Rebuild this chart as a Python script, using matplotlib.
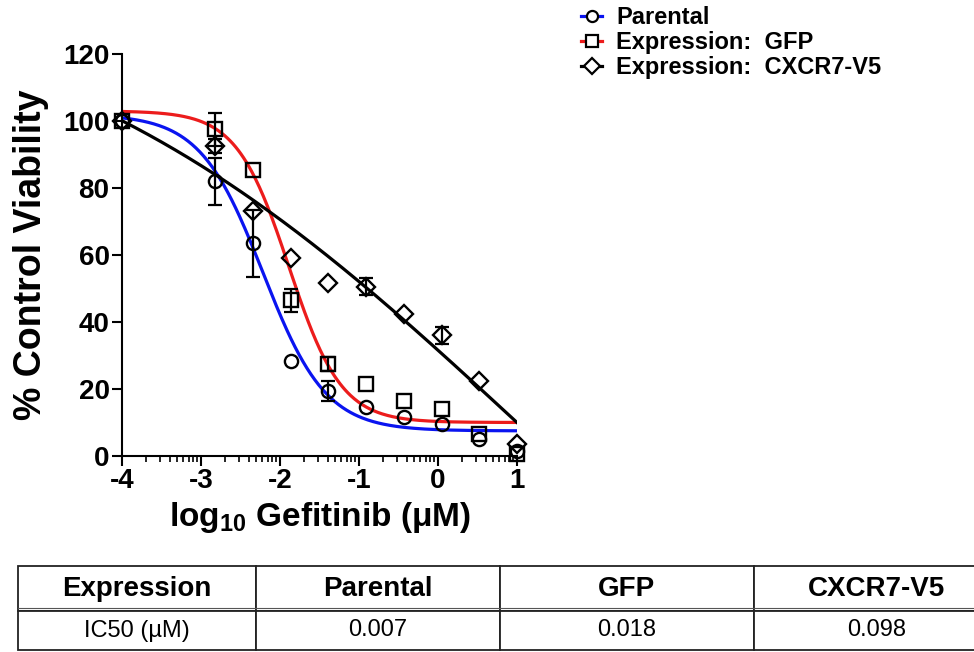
import numpy as np
import matplotlib.pyplot as plt
from matplotlib.lines import Line2D

plt.rcParams['font.family'] = ['Liberation Sans', 'DejaVu Sans']
plt.rcParams['font.weight'] = 'bold'
plt.rcParams['mathtext.fontset'] = 'custom'
plt.rcParams['mathtext.rm'] = 'Liberation Sans:bold'
plt.rcParams['mathtext.default'] = 'rm'
plt.rcParams['axes.unicode_minus'] = False

# log10 gefitinib concentration (uM), control plotted at -4
log_conc = [-4, -2.82, -2.34, -1.86, -1.39, -0.91, -0.43, 0.05, 0.52, 1.0]

parental = [100, 82, 63.5, 28.5, 19.5, 14.5, 11.5, 9.5, 5.0, 1.5]
parental_err = [0, 7, 10, 0, 3, 0, 0, 0, 0, 0]
gfp = [100, 97.5, 85.5, 46.5, 27.5, 21.5, 16.5, 14, 6.5, 0.5]
gfp_err = [0, 5, 0, 3.5, 2, 0, 0, 0, 0, 0]
cxcr7 = [100, 92.5, 73, 59, 51.5, 50.5, 42.5, 36, 22.5, 3.5]
cxcr7_err = [0, 2, 0, 0, 0, 2.5, 0, 2.5, 0, 0]

# 4PL fit params: top, bottom, logIC50, hill
parental_fit = [102, 7.5, -2.216, 1.09]
gfp_fit = [103, 10, -1.887, 1.31]
cxcr7_fit = [145, -125, 1.0, 0.14]

labels = ['Parental', 'Expression:  GFP', 'Expression:  CXCR7-V5']
colors = ['#0a14f0', '#ec1c1c', 'black']
markers = ['o', 's', 'D']

table_header = ['Expression', 'Parental', 'GFP', 'CXCR7-V5']
table_row = ['IC50 (\u00b5M)', '0.007', '0.018', '0.098']


def four_pl(x, p):
    top, bottom, c, h = p
    return bottom + (top - bottom) / (1 + 10 ** ((x - c) * h))


fig = plt.figure(figsize=(9.74, 6.52), dpi=100)
ax = fig.add_axes([122/974, 1 - 456/652, 395/974, 402/652])

xs = np.linspace(-4, 1, 300)
series = [(parental, parental_err, parental_fit),
          (gfp, gfp_err, gfp_fit),
          (cxcr7, cxcr7_err, cxcr7_fit)]

for i, (vals, errs, fit) in enumerate(series):
    ax.plot(xs, four_pl(xs, fit), color=colors[i], lw=2.3, zorder=2)
    x = np.array(log_conc)
    y = np.array(vals)
    e = np.array(errs)
    m = e > 0
    ax.errorbar(x[m], y[m], yerr=e[m], fmt='none', ecolor='black',
                elinewidth=1.6, capsize=5, capthick=1.6, zorder=3)
    ax.plot(x, y, ls='none', marker=markers[i], ms=9.5 if i < 2 else 9,
            mfc='none', mec='black', mew=1.7, zorder=4, clip_on=False)

ax.set_xlim(-4, 1)
ax.set_ylim(0, 120)
ax.spines['top'].set_visible(False)
ax.spines['right'].set_visible(False)
ax.spines['left'].set_linewidth(1.5)
ax.spines['bottom'].set_linewidth(1.5)
ax.set_xticks(range(-4, 2))
minor = [d + np.log10(k) for d in range(-4, 1) for k in range(2, 10)]
ax.set_xticks(minor, minor=True)
ax.set_yticks(range(0, 121, 20))
ax.tick_params(which='major', length=7, width=1.5, labelsize=20, pad=2)
ax.tick_params(which='minor', length=4, width=1.2)
for t in ax.get_xticklabels() + ax.get_yticklabels():
    t.set_fontweight('bold')

ax.set_ylabel('% Control Viability', fontsize=27, fontweight='bold', labelpad=10)
ax.set_xlabel('log$_{10}$ Gefitinib (\u03bcM)', fontsize=24, fontweight='bold', labelpad=4)

handles = [Line2D([], [], color=colors[i], lw=2.3, marker=markers[i], ms=8,
                  mfc='white', mec='black', mew=1.6) for i in range(3)]
fig.legend(handles, labels, loc='upper left', bbox_to_anchor=(581/974, 1 - 6/652),
           frameon=False, prop={'weight': 'bold', 'size': 17}, handlelength=0.9,
           handletextpad=0.6, labelspacing=0.08, borderaxespad=0, borderpad=0)

# IC50 table
tax = fig.add_axes([18/974, 2/652, 982/974, 84/652])
tax.axis('off')
tbl = tax.table(cellText=[table_row], colLabels=table_header, cellLoc='center',
                colWidths=[238, 244, 254, 246], bbox=[0, 0, 1, 1])
tbl.auto_set_font_size(False)
for (r, c), cell in tbl.get_celld().items():
    cell.set_linewidth(1.3)
    cell.set_edgecolor('#222222')
    cell.set_height(45 if r == 0 else 39)
    txt = cell.get_text()
    if r == 0:
        txt.set_fontweight('bold')
        txt.set_fontsize(20)
    else:
        txt.set_fontweight('normal')
        txt.set_fontsize(17)
tax.plot([0, 1], [39/84 + 0.035, 39/84 + 0.035], color='#555555', lw=0.8)
tax.set_xlim(0, 1)
tax.set_ylim(0, 1)

fig.savefig('out.png', dpi=100)
